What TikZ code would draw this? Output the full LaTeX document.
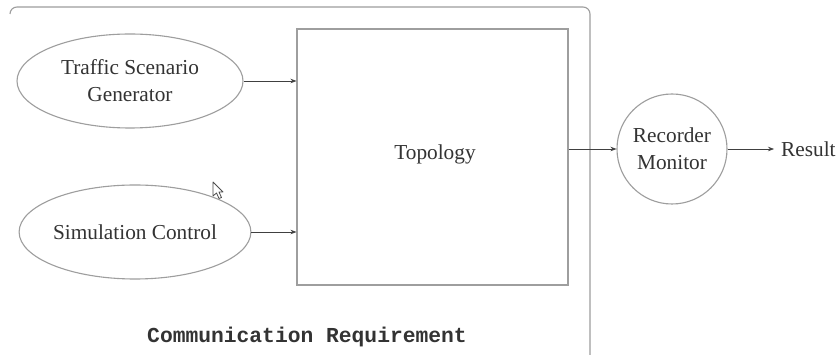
\documentclass[tikz,border=0pt]{standalone}
\usepackage{fontspec}
\setmainfont{Liberation Serif}
\newfontfamily\courbold[BoldFont={Liberation Mono Bold}]{Liberation Mono}
\usetikzlibrary{shapes.geometric,arrows.meta}
\definecolor{linegray}{gray}{0.62}
\definecolor{textgray}{gray}{0.2}
\tikzset{
  boxline/.style={draw=linegray, line width=1.1pt},
  ellnode/.style={boxline, ellipse, minimum width=226pt, minimum height=94pt, inner sep=0pt,
     align=center, font=\rmfamily\fontsize{21.3}{27}\selectfont, text=textgray},
  conn/.style={draw=black!75, line width=0.7pt, -{Stealth[length=6pt,width=4.5pt]}},
  lbl/.style={font=\rmfamily\fontsize{21.3}{27}\selectfont, text=textgray, align=center}
}
\begin{document}
\begin{tikzpicture}[x=1pt,y=-1pt]
\useasboundingbox (0,0) rectangle (838,355);
\fill[white] (0,0) rectangle (838,355);
% outer container (open at bottom and left)
\coordinate (cl) at (10,14);
\coordinate (ctr) at (590,7);
\coordinate (cbr) at (590,355);
\draw[boxline, rounded corners=7pt] (cl) |- (ctr) -- (cbr);
% nodes
\node[ellnode] (tsg) at (130,81) {Traffic Scenario\\Generator};
\node[ellnode] (sim) at (135,232) {Simulation Control};
\node[boxline, rectangle, minimum width=271pt, minimum height=256pt, inner sep=0pt] (topo) at (432.5,157) {};
\node[lbl] (topolbl) at (435,154) {Topology};
\node[boxline, circle, minimum size=110pt, inner sep=0pt, lbl] (rec) at (672,149) {Recorder\\Monitor};
\node[lbl, anchor=west, inner sep=0pt] (res) at (781,149) {Result};
\node[font=\courbold\bfseries\fontsize{21.3}{24}\selectfont, text=textgray] (comm) at (307,337) {Communication Requirement};
% connectors
\draw[conn] (tsg.east) -- (tsg.east -| topo.west);
\draw[conn] (sim.east) -- (sim.east -| topo.west);
\draw[conn] (topo.east |- rec.west) -- (rec.west);
\draw[conn, shorten >=7pt] (rec.east) -- (res.west);
% mouse pointer
\draw[black!70, line width=0.8pt, fill=white, line join=round]
  (213,182) -- (213,196) -- (216.5,193) -- (219,198.5) -- (221.5,197.5) -- (219,192) -- (223,192) -- cycle;
\end{tikzpicture}
\end{document}
